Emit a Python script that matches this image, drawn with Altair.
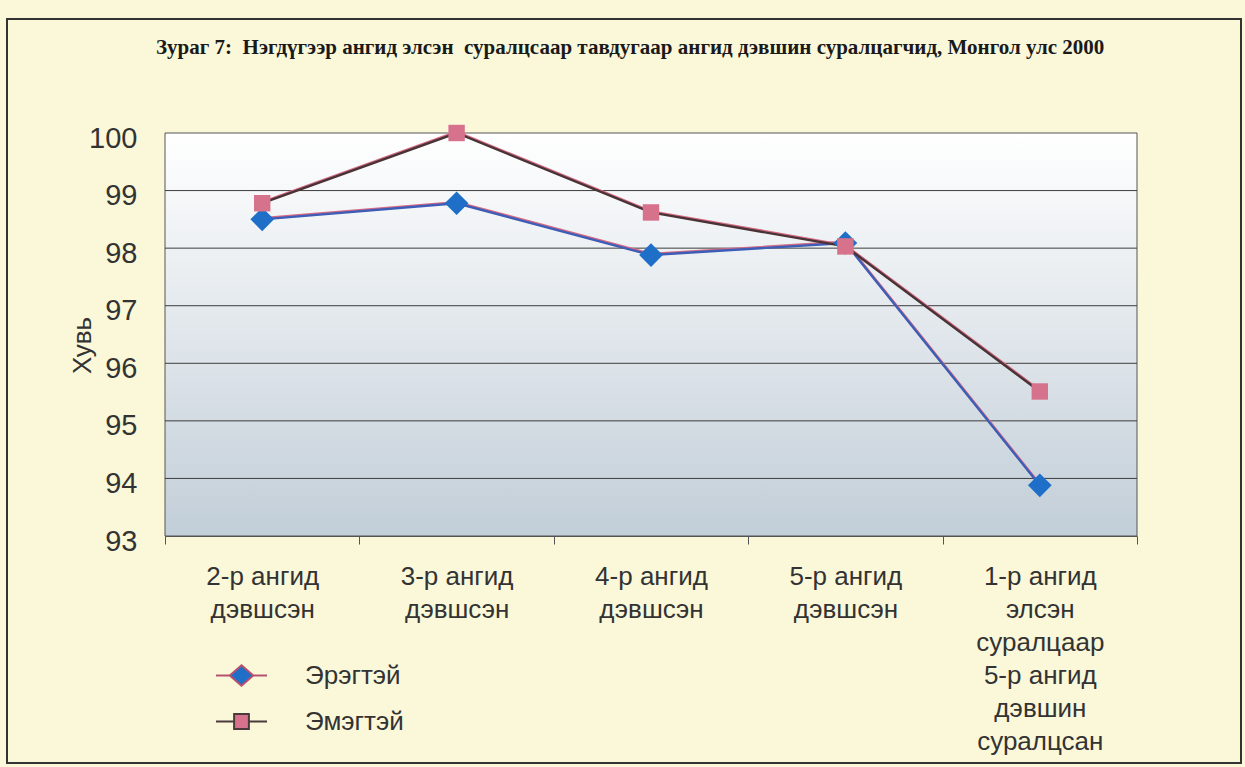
import altair as alt
import pandas as pd

# Categories (line breaks marked with "|"), series and values in percent
categories = [
    "2-р ангид|дэвшсэн",
    "3-р ангид|дэвшсэн",
    "4-р ангид|дэвшсэн",
    "5-р ангид|дэвшсэн",
    "1-р ангид|элсэн|суралцаар|5-р ангид|дэвшин|суралцсан",
]
series = ["Эрэгтэй", "Эмэгтэй"]
male = [98.50, 98.78, 97.88, 98.09, 93.88]
female = [98.78, 100.00, 98.62, 98.03, 95.51]
y_ticks = [93, 94, 95, 96, 97, 98, 99, 100]

title_text = ("Зураг 7:\u00a0 Нэгдүгээр ангид элсэн\u00a0 суралцсаар тавдугаар ангид "
              "дэвшин суралцагчид, Монгол улс 2000")

marker_colors = ["#1f6fc8", "#d7728c"]
line_colors = ["#3d5db6", "#4a3336"]
fringe_color = "#d46a84"
legend_line_colors = ["#b5506e", "#4a3a3c"]
legend_paths = [
    "M-1,0L-0.46,0M0.46,0L1,0M0,-0.4L0.46,0L0,0.4L-0.46,0Z",
    "M-1,0L-0.29,0M0.29,0L1,0M-0.29,-0.29L0.29,-0.29L0.29,0.29L-0.29,0.29Z",
]

W, H = 972, 403
FONT = "Liberation Sans"

rows = []
for name, vals in zip(series, [male, female]):
    for c, v in zip(categories, vals):
        rows.append({"cat": c, "series": name, "value": v})
df = pd.DataFrame(rows)
grid_df = pd.DataFrame({"value": y_ticks[1:-1]})

x_enc = alt.X(
    "cat:N",
    sort=categories,
    scale=alt.Scale(type="band", paddingInner=0, paddingOuter=0),
    axis=alt.Axis(
        title=None,
        labelExpr="split(datum.label, '|')",
        labelAngle=0,
        labelAlign="center",
        labelBaseline="top",
        labelFont=FONT,
        labelFontSize=26,
        labelLineHeight=33,
        labelColor="#333333",
        labelPadding=19,
        labelLimit=400,
        tickBand="extent",
        ticks=True,
        tickSize=8,
        tickColor="#555555",
        domainColor="#555555",
        grid=False,
    ),
)
y_enc = alt.Y(
    "value:Q",
    scale=alt.Scale(domain=[93, 100], nice=False, zero=False),
    axis=alt.Axis(
        title="Хувь",
        values=y_ticks,
        grid=False,
        ticks=False,
        domainColor="#555555",
        labelFont=FONT,
        labelFontSize=29,
        labelColor="#333333",
        labelPadding=28,
        labelOffset=5,
        titleFont=FONT,
        titleFontSize=26,
        titleFontWeight="normal",
        titleColor="#333333",
        titleAngle=270,
        titleAlign="center",
        titleBaseline="middle",
        titleX=-83,
        titleY=212,
    ),
)

one = pd.DataFrame({"k": [0]})

# Plot-area fill, white at the top fading to a pale steel blue
plot_bg = alt.Chart(one).mark_rect(
    color=alt.Gradient(
        gradient="linear",
        stops=[alt.GradientStop(color="#ffffff", offset=0),
               alt.GradientStop(color="#c2ced8", offset=1)],
        x1=0, x2=0, y1=0, y2=1,
    ),
    stroke="#555555",
    strokeWidth=1,
).encode(x=alt.value(0), x2=alt.value(W), y=alt.value(0), y2=alt.value(H))

gridlines = alt.Chart(grid_df).mark_rule(color="#3c3c3c", strokeWidth=1).encode(y=y_enc)

fringe = alt.Chart(df).mark_line(color=fringe_color, strokeWidth=2.6, yOffset=-1).encode(
    x=x_enc, y=y_enc, detail="series:N"
)
lines = alt.Chart(df).mark_line(strokeWidth=2.4).encode(
    x=x_enc,
    y=y_enc,
    stroke=alt.Stroke("series:N", scale=alt.Scale(domain=series, range=line_colors), legend=None),
)
points = alt.Chart(df).mark_point(filled=True, opacity=1, strokeWidth=0).encode(
    x=x_enc,
    y=y_enc,
    fill=alt.Fill("series:N", scale=alt.Scale(domain=series, range=marker_colors), legend=None),
    shape=alt.Shape("series:N", scale=alt.Scale(domain=series, range=["diamond", "square"]), legend=None),
    size=alt.Size("series:N", scale=alt.Scale(domain=series, range=[560, 270]), legend=None),
)

leg = alt.Legend(
    title=None,
    orient="none",
    legendX=50,
    legendY=516,
    direction="vertical",
    symbolSize=2601,
    symbolStrokeWidth=2,
    symbolOpacity=1,
    labelFont=FONT,
    labelFontSize=26,
    labelColor="#333333",
    labelOffset=37,
    rowPadding=5,
)
legend_layer = alt.Chart(df).transform_filter("false").mark_point(
    filled=True, opacity=1, strokeWidth=2
).encode(
    fill=alt.Fill("series:N", scale=alt.Scale(domain=series, range=marker_colors), legend=leg),
    stroke=alt.Stroke("series:N", scale=alt.Scale(domain=series, range=legend_line_colors), legend=leg),
    shape=alt.Shape("series:N", scale=alt.Scale(domain=series, range=legend_paths), legend=leg),
)

# Outer frame around the whole figure
frame = alt.Chart(one).mark_rect(fillOpacity=0, stroke="#333333", strokeWidth=2).encode(
    x=alt.value(-158), x2=alt.value(1076), y=alt.value(-114), y2=alt.value(630)
)

chart = (
    alt.layer(plot_bg, gridlines, fringe, lines, points, legend_layer, frame)
    .resolve_scale(fill="independent", stroke="independent", shape="independent")
    .properties(
        width=W,
        height=H,
        autosize=alt.AutoSizeParams(type="none"),
        padding={"left": 165, "top": 133, "right": 108, "bottom": 231},
        background="#fbf8da",
        title=alt.TitleParams(
            text=title_text,
            font="Liberation Serif",
            fontSize=21,
            fontWeight="bold",
            color="#1a1a1a",
            anchor="start",
            frame="group",
            dx=-9,
            offset=-40,
        ),
    )
    .configure_view(stroke=None)
)

chart.save("out.html", embed_options={"renderer": "svg", "actions": False})
